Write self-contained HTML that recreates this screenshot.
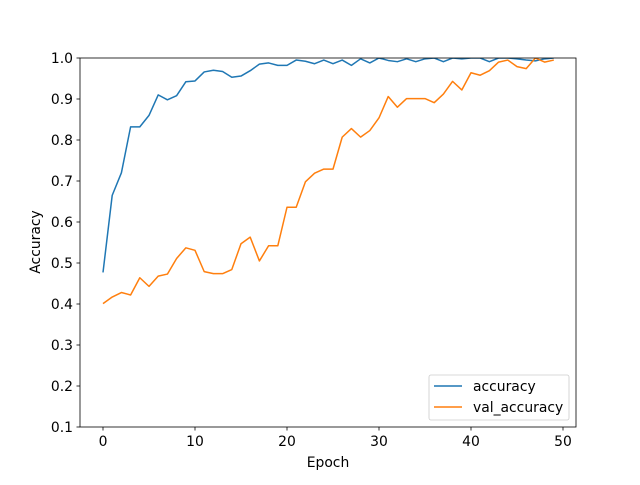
<!DOCTYPE html>
<html><head><meta charset="utf-8"><style>
body{margin:0;background:#fff}
svg text{font-family:"DejaVu Sans","Liberation Sans",sans-serif;font-size:13.9px;fill:#000}
</style></head><body>
<svg id="c" width="640" height="480"></svg>
<script>
const epochs=[...Array(50).keys()];
const accuracy=[0.477,0.665,0.72,0.832,0.832,0.86,0.91,0.898,0.908,0.942,0.944,0.966,0.970,0.967,0.953,0.956,0.969,0.985,0.988,0.982,0.982,0.995,0.992,0.986,0.995,0.986,0.995,0.982,0.998,0.988,1.0,0.994,0.991,0.998,0.991,0.998,1.0,0.991,1.0,0.998,1.0,1.0,0.991,1.0,1.0,0.998,0.995,0.993,0.998,1.0];
const valAccuracy=[0.401,0.417,0.428,0.422,0.464,0.443,0.468,0.473,0.511,0.537,0.531,0.479,0.474,0.474,0.484,0.547,0.563,0.505,0.542,0.542,0.636,0.636,0.698,0.719,0.729,0.729,0.807,0.828,0.807,0.823,0.854,0.906,0.880,0.901,0.901,0.901,0.891,0.912,0.943,0.922,0.964,0.958,0.969,0.990,0.995,0.979,0.974,1.0,0.990,0.995];
const xTicks=[0,10,20,30,40,50];
const yTicks=[0.1,0.2,0.3,0.4,0.5,0.6,0.7,0.8,0.9,1.0];
const L=80,R=576,T=58,B=427;
const X=v=>103+v*9.2;
const Y=v=>B-(v-0.1)/0.9*(B-T);
const NS='http://www.w3.org/2000/svg';
const svg=document.getElementById('c');
function mk(t,a,p){const e=document.createElementNS(NS,t);for(const k in a)e.setAttribute(k,a[k]);(p||svg).appendChild(e);return e;}
const clip=mk('clipPath',{id:'cl'});mk('rect',{x:L,y:T,width:R-L,height:B-T},clip);
function line(data,color,name){
  const p=mk('polyline',{points:data.map((v,i)=>X(epochs[i])+','+Y(v)).join(' '),fill:'none',stroke:color,'stroke-width':1.5,'clip-path':'url(#cl)','stroke-linejoin':'round'});
  
  
}
line(accuracy,'#1f77b4','accuracy-line');
line(valAccuracy,'#ff7f0e','val-accuracy-line');
const frame=mk('rect',{x:L,y:T,width:R-L,height:B-T,fill:'none',stroke:'#000','stroke-width':0.8});


xTicks.forEach(t=>{
  mk('line',{x1:X(t),x2:X(t),y1:B,y2:B+3.5,stroke:'#000','stroke-width':0.8});
  const tx=mk('text',{x:X(t),y:B+19,'text-anchor':'middle'});tx.textContent=t;
  
  
});
yTicks.forEach(t=>{
  mk('line',{x1:L-3.5,x2:L,y1:Y(t),y2:Y(t),stroke:'#000','stroke-width':0.8});
  const tx=mk('text',{x:L-7,y:Y(t)+5,'text-anchor':'end'});tx.textContent=t.toFixed(1);
  
  
});
const xt=mk('text',{x:(L+R)/2,y:467,'text-anchor':'middle'});xt.textContent='Epoch';


const yt=mk('text',{x:0,y:0,'text-anchor':'middle',transform:'translate(40,242) rotate(-90)'});yt.textContent='Accuracy';


const lg=mk('g',{});


mk('rect',{x:429,y:375,width:140,height:45,rx:2,fill:'#fff','fill-opacity':0.8,stroke:'#ccc','stroke-width':0.8},lg);
[['accuracy','#1f77b4',391],['val_accuracy','#ff7f0e',412]].forEach(([n,c,y])=>{
  mk('line',{x1:434,x2:462,y1:y-5,y2:y-5,stroke:c,'stroke-width':1.5},lg);
  const t=mk('text',{x:473,y:y},lg);t.textContent=n;
  
  
});
</script>
</body></html>
